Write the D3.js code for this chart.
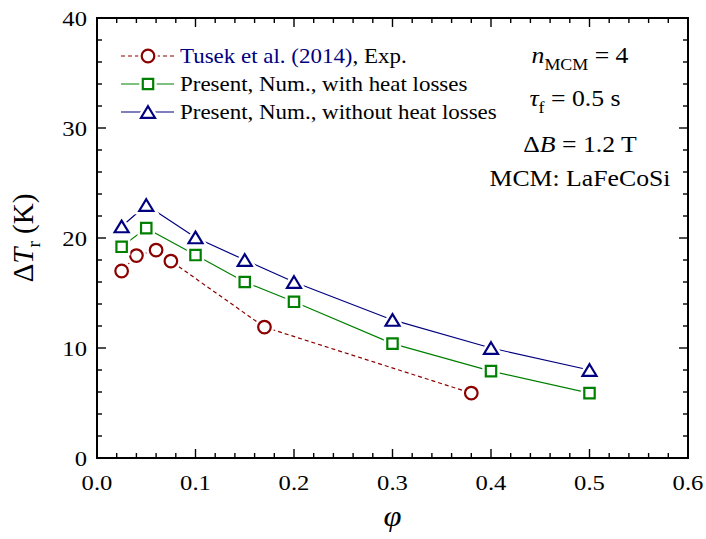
<!DOCTYPE html>
<html>
<head>
<meta charset="utf-8">
<script src="https://cdn.jsdelivr.net/npm/d3@7"></script>
<style>
  body { margin: 0; background: #fff; }
</style>
</head>
<body>
<div id="chart"></div>
<script>
// data
var expPhi = [0.025, 0.04, 0.06, 0.075, 0.17, 0.38]
var expDT = [17, 18.4, 18.9, 17.9, 11.9, 5.9]
var numPhi = [0.025, 0.05, 0.1, 0.15, 0.2, 0.3, 0.4, 0.5]
var withLosses = [19.2, 20.9, 18.45, 16.0, 14.2, 10.4, 7.9, 5.9]
var withoutLosses = [21.05, 23, 20.05, 18.0, 16.0, 12.55, 10.0, 8.0]
var xTicks = [0, 0.1, 0.2, 0.3, 0.4, 0.5, 0.6]
var yTicks = [0, 10, 20, 30, 40]
var legendLabels = ["Tusek et al. (2014)", "Present, Num., with heat losses", "Present, Num., without heat losses"]

var width = 706, height = 539
var margin = {left: 97, right: 18, top: 18, bottom: 81}
var SX = 1.12 // the figure text is a bit wider than it is tall

var red = "#8b0000", green = "#008000", blue = "#000080"

var svg = d3.select("#chart").append("svg")
  .attr("width", width).attr("height", height)
  .attr("font-family", "'Liberation Serif', 'Times New Roman', Times, serif")

var x = d3.scaleLinear().domain([0, 0.6]).range([margin.left, width - margin.right])
var y = d3.scaleLinear().domain([0, 40]).range([height - margin.bottom, margin.top])

// text helper: stretched horizontally like the original
function txt(px, py, anchor, size) {
  return svg.append("g")
    .attr("transform", "translate(" + px + "," + py + ") scale(" + SX + ",1)")
    .append("text")
    .attr("text-anchor", anchor)
    .style("font-size", size + "px")
}

// ticks, inside, on all four sides
var xMinor = d3.range(0, 0.6001, 0.02)
var yMinor = d3.range(0, 40.001, 2)
var tk = svg.append("g").attr("stroke", "#000").attr("stroke-width", 1.4)
xMinor.forEach(function(v, i) {
  var len = (i % 5 == 0) ? 9 : 5
  tk.append("line").attr("x1", x(v)).attr("x2", x(v)).attr("y1", y(0)).attr("y2", y(0) - len)
  tk.append("line").attr("x1", x(v)).attr("x2", x(v)).attr("y1", y(40)).attr("y2", y(40) + len)
})
yMinor.forEach(function(v, i) {
  var len = (i % 5 == 0) ? 9 : 5
  tk.append("line").attr("x1", x(0)).attr("x2", x(0) + len).attr("y1", y(v)).attr("y2", y(v))
  tk.append("line").attr("x1", x(0.6)).attr("x2", x(0.6) - len).attr("y1", y(v)).attr("y2", y(v))
})

svg.append("rect")
  .attr("x", x(0)).attr("y", y(40))
  .attr("width", x(0.6) - x(0)).attr("height", y(0) - y(40))
  .attr("fill", "none").attr("stroke", "#000").attr("stroke-width", 2)

// tick labels
xTicks.forEach(function(v) {
  txt(x(v), y(0) + 32, "middle", 22).text(d3.format(".1f")(v))
})
yTicks.forEach(function(v) {
  txt(x(0) - 10, y(v) + 8, "end", 22).text(v)
})

// axis titles
var yl = svg.append("text")
  .attr("transform", "translate(33," + ((y(0) + y(40)) / 2) + ") rotate(-90)")
  .attr("text-anchor", "middle")
  .style("font-size", "29px")
yl.append("tspan").text("\u0394")
yl.append("tspan").style("font-style", "italic").text("T")
yl.append("tspan").attr("dy", 7).style("font-size", "19px").text("r")
yl.append("tspan").attr("dy", -7).text(" (K)")

txt((x(0) + x(0.6)) / 2, 526, "middle", 29).style("font-style", "italic").text("\u03c6")

// lines
var line = d3.line().x(function(d) { return x(d[0]) }).y(function(d) { return y(d[1]) })
var expData = d3.zip(expPhi, expDT)
var withData = d3.zip(numPhi, withLosses)
var withoutData = d3.zip(numPhi, withoutLosses)

svg.append("path").datum(expData).attr("d", line)
  .attr("fill", "none").attr("stroke", red).attr("stroke-width", 1.2).attr("stroke-dasharray", "4,3")
svg.append("path").datum(withData).attr("d", line)
  .attr("fill", "none").attr("stroke", green).attr("stroke-width", 1.2)
svg.append("path").datum(withoutData).attr("d", line)
  .attr("fill", "none").attr("stroke", blue).attr("stroke-width", 1.2)

// markers with a white halo so the lines stop short of them
var shapes = {
  circle: "M6.3,0A6.3,6.3 0 1,1 -6.3,0A6.3,6.3 0 1,1 6.3,0Z",
  square: "M-5.2,-5.2H5.2V5.2H-5.2Z",
  triangle: "M0,-5.8L7,5.8H-7Z"
}
function marker(px, py, shape, color) {
  var g = svg.append("g").attr("transform", "translate(" + px + "," + py + ")")
  g.append("path").attr("d", shapes[shape]).attr("fill", "#fff").attr("stroke", "#fff").attr("stroke-width", 7)
  g.append("path").attr("d", shapes[shape]).attr("fill", "#fff").attr("stroke", color).attr("stroke-width", 2.2)
}
expData.forEach(function(d) { marker(x(d[0]), y(d[1]), "circle", red) })
withData.forEach(function(d) { marker(x(d[0]), y(d[1]), "square", green) })
withoutData.forEach(function(d) { marker(x(d[0]), y(d[1]), "triangle", blue) })

// legend
var legRows = [56, 84, 112]
var legStyle = [
  {color: red, shape: "circle", dash: "4,3"},
  {color: green, shape: "square", dash: null},
  {color: blue, shape: "triangle", dash: null}
]
legRows.forEach(function(ly, i) {
  var s = legStyle[i]
  svg.append("line").attr("x1", 121).attr("x2", 174).attr("y1", ly).attr("y2", ly)
    .attr("stroke", s.color).attr("stroke-width", 1.2).attr("stroke-dasharray", s.dash)
  marker(148, ly, s.shape, s.color)
})
var l1 = txt(180, legRows[0] + 7, "start", 20.5)
l1.append("tspan").attr("fill", blue).text(legendLabels[0])
l1.append("tspan").text(", Exp.")
txt(180, legRows[1] + 7, "start", 20.5).text(legendLabels[1])
txt(180, legRows[2] + 7, "start", 20.5).text(legendLabels[2])

// annotations
var ax = 580
var a1 = txt(ax, 63, "middle", 23)
a1.append("tspan").style("font-style", "italic").text("n")
a1.append("tspan").attr("dy", 7).style("font-size", "16px").text("MCM")
a1.append("tspan").attr("dy", -7).text(" = 4")
var a2 = txt(ax - 5, 106, "middle", 23)
a2.append("tspan").style("font-style", "italic").text("\u03c4")
a2.append("tspan").attr("dy", 7).style("font-size", "16px").text("f")
a2.append("tspan").attr("dy", -7).text(" = 0.5 s")
var a3 = txt(ax, 152, "middle", 23)
a3.append("tspan").text("\u0394")
a3.append("tspan").style("font-style", "italic").text("B")
a3.append("tspan").text(" = 1.2 T")
txt(ax, 186, "middle", 23).text("MCM: LaFeCoSi")
</script>
</body>
</html>
